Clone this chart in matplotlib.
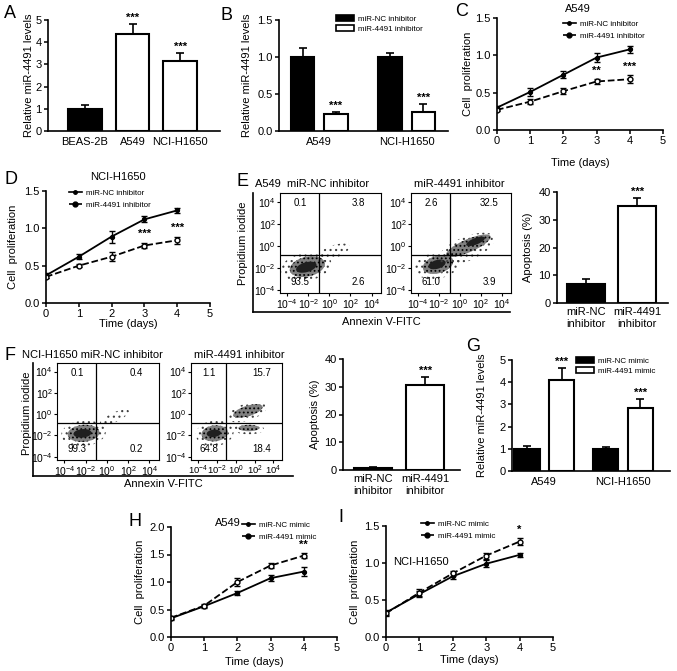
import matplotlib
matplotlib.use('Agg')
import matplotlib.pyplot as plt
from matplotlib.patches import Ellipse, Patch
from matplotlib.lines import Line2D

plt.rcParams['font.family'] = ['Liberation Sans', 'DejaVu Sans']
plt.rcParams['mathtext.fontset'] = 'custom'
plt.rcParams['mathtext.rm'] = 'Liberation Sans'
plt.rcParams['mathtext.it'] = 'Liberation Sans'
plt.rcParams['mathtext.default'] = 'regular'
plt.rcParams['hatch.linewidth'] = 0.8

# ---- data ----
# A: relative miR-4491 levels in cell lines
a_cells = ['BEAS-2B', 'A549', 'NCI-H1650']
a_vals = [1.0, 4.35, 3.17]
a_err = [0.15, 0.45, 0.35]

# B: inhibitor knockdown
b_groups = ['A549', 'NCI-H1650']
b_nc = [1.0, 1.0]
b_nc_err = [0.12, 0.05]
b_inh = [0.23, 0.26]
b_inh_err = [0.03, 0.10]

# proliferation time course
days = [0, 1, 2, 3, 4]
c_nc = [0.30, 0.51, 0.74, 0.97, 1.08]
c_nc_err = [0.02, 0.05, 0.05, 0.06, 0.05]
c_inh = [0.27, 0.38, 0.52, 0.65, 0.68]
c_inh_err = [0.02, 0.03, 0.04, 0.03, 0.05]

d_nc = [0.37, 0.62, 0.89, 1.12, 1.24]
d_nc_err = [0.03, 0.03, 0.08, 0.04, 0.03]
d_inh = [0.35, 0.50, 0.62, 0.77, 0.84]
d_inh_err = [0.02, 0.02, 0.06, 0.04, 0.05]

h_nc = [0.34, 0.56, 0.80, 1.07, 1.19]
h_nc_err = [0.03, 0.03, 0.03, 0.05, 0.08]
h_mim = [0.35, 0.57, 1.00, 1.30, 1.48]
h_mim_err = [0.03, 0.03, 0.08, 0.05, 0.05]

i_nc = [0.33, 0.58, 0.82, 0.99, 1.11]
i_nc_err = [0.03, 0.04, 0.04, 0.05, 0.03]
i_mim = [0.32, 0.60, 0.86, 1.10, 1.29]
i_mim_err = [0.03, 0.05, 0.03, 0.04, 0.05]

# apoptosis bars
apo_labels = ['miR-NC\ninhibitor', 'miR-4491\ninhibitor']
e_apo = [6.8, 34.8]
e_apo_err = [1.8, 3.0]
f_apo = [0.8, 30.7]
f_apo_err = [0.3, 2.8]

# G: mimic overexpression
g_nc = [1.0, 1.0]
g_nc_err = [0.12, 0.08]
g_mim = [4.1, 2.85]
g_mim_err = [0.55, 0.38]

# flow quadrant percentages (UL, UR, LL, LR)
e1_quad = ['0.1', '3.8', '93.5', '2.6']
e2_quad = ['2.6', '32.5', '61.0', '3.9']
f1_quad = ['0.1', '0.4', '99.3', '0.2']
f2_quad = ['1.1', '15.7', '64.8', '18.4']

# flow cell clouds, log10 units: (x, y, width, height, angle, density level)
e1_clouds = [(-2.2, -1.9, 4.8, 2.6, 10, 1), (-2.1, -1.9, 3.4, 1.8, 12, 2),
             (-2.2, -1.95, 2.0, 0.9, 15, 3), (0.3, -0.6, 3.4, 1.2, 20, 1)]
e2_clouds = [(-2.2, -1.8, 4.4, 2.4, 10, 1), (-2.1, -1.7, 3.0, 1.6, 15, 2),
             (-2.2, -1.7, 1.7, 0.8, 15, 3), (0.6, -0.3, 5.8, 2.2, 22, 1),
             (0.8, 0.0, 4.6, 1.2, 22, 2), (1.5, 0.4, 1.9, 0.6, 20, 3)]
f1_clouds = [(-2.2, -1.8, 4.2, 2.4, 5, 1), (-2.2, -1.8, 3.0, 1.6, 5, 2),
             (-2.3, -1.8, 1.7, 0.8, 5, 3), (0.7, -0.3, 3.0, 0.9, 25, 1)]
f2_clouds = [(-2.2, -1.8, 4.0, 2.4, 5, 1), (-2.2, -1.8, 2.8, 1.5, 5, 2),
             (-2.3, -1.8, 1.5, 0.7, 5, 3), (1.2, 0.2, 4.4, 1.6, 15, 1),
             (1.3, 0.3, 3.2, 1.0, 15, 2), (1.4, -1.4, 3.2, 1.0, 0, 1),
             (1.4, -1.3, 2.2, 0.6, 0, 2)]

W, H = 677, 671
fig = plt.figure(figsize=(W / 100, H / 100), dpi=100)


def px(x0, y0, x1, y1):
    return [x0 / W, 1 - y1 / H, (x1 - x0) / W, (y1 - y0) / H]


FS = 8


def style(ax):
    for s in ['top', 'right']:
        ax.spines[s].set_visible(False)
    for s in ['left', 'bottom']:
        ax.spines[s].set_linewidth(1.2)
    ax.tick_params(direction='out', length=3, width=1.1, labelsize=FS, pad=1.5)


# label positions given as the label's centre in pixels
def ylab(ax, box, text, x_px, y_px=None):
    ax.set_ylabel(text, fontsize=FS)
    yf = 0.5 if y_px is None else (box[3] - y_px) / (box[3] - box[1])
    ax.yaxis.set_label_coords((x_px + 5 - box[0]) / (box[2] - box[0]), yf)


def xlab(ax, box, text, y_px):
    ax.set_xlabel(text, fontsize=FS)
    ax.xaxis.set_label_coords(0.5, -(y_px - 5 - box[3]) / (box[3] - box[1]))


def letter(x, y, s):
    fig.text(x / W, 1 - y / H, s, fontsize=13, ha='left', va='center')


def stars(ax, x, y, s):
    ax.text(x, y, s, ha='center', va='bottom', fontsize=8, fontweight='bold')


def bar_err(ax, x, vals, errs):
    ax.errorbar(x, vals, yerr=[[0] * len(errs), errs], fmt='none', ecolor='k',
                elinewidth=1.2, capsize=3, capthick=1.2, zorder=1)


# ---- A ----
box = (48, 20, 220, 131)
ax = fig.add_axes(px(*box))
style(ax)
xs = range(len(a_cells))
ax.bar(xs, a_vals, width=0.7, color=['black', 'white', 'white'], edgecolor='k', linewidth=1.5, zorder=2)
bar_err(ax, xs, a_vals, a_err)
for i in [1, 2]:
    stars(ax, i, a_vals[i] + a_err[i] + 0.05, '***')
ax.set_xlim(-0.78, 2.84)
ax.set_ylim(0, 5)
ax.set_yticks(range(6))
ax.set_xticks(list(xs))
ax.set_xticklabels(a_cells)
ax.tick_params(axis='x', length=0, pad=4)
ylab(ax, box, 'Relative miR-4491 levels', 29)
letter(4, 13, 'A')


# ---- grouped bars ----
def grouped(ax, nc, nce, tr, tre, off, width, star_off):
    xl = [i - off for i in range(len(nc))]
    xr = [i + off for i in range(len(nc))]
    ax.bar(xl, nc, width=width, color='black', edgecolor='k', linewidth=1.5, zorder=2)
    ax.bar(xr, tr, width=width, color='white', edgecolor='k', linewidth=1.5, zorder=2)
    bar_err(ax, xl, nc, nce)
    bar_err(ax, xr, tr, tre)
    for i in range(len(tr)):
        stars(ax, xr[i], tr[i] + tre[i] + star_off, '***')
    ax.set_xticks(range(len(nc)))
    ax.set_xticklabels(b_groups)
    ax.tick_params(axis='x', length=0, pad=4)


def legend_at(ax, handles, labels, x, y, hl=2.0, fs=5.8, sp=0.35):
    ax.legend(handles, labels, loc='upper left', bbox_to_anchor=(x / W, 1 - y / H),
              bbox_transform=fig.transFigure, frameon=False, fontsize=fs,
              handlelength=hl, handletextpad=0.5, borderpad=0, labelspacing=sp,
              borderaxespad=0)


box = (279, 20, 448, 131)
ax = fig.add_axes(px(*box))
style(ax)
grouped(ax, b_nc, b_nc_err, b_inh, b_inh_err, 0.19, 0.27, 0.015)
ax.set_xlim(-0.46, 1.47)
ax.set_ylim(0, 1.5)
ax.set_yticks([0, 0.5, 1.0, 1.5])
ax.set_yticklabels(['0.0', '0.5', '1.0', '1.5'])
ylab(ax, box, 'Relative miR-4491 levels', 247)
box_h = [Patch(facecolor='black', edgecolor='k', lw=1.2), Patch(facecolor='white', edgecolor='k', lw=1.2)]
legend_at(ax, box_h, ['miR-NC inhibitor', 'miR-4491 inhibitor'], 336, 15, hl=2.2, sp=0.3)
letter(221, 15, 'B')

box = (512, 360, 670, 471)
ax = fig.add_axes(px(*box))
style(ax)
grouped(ax, g_nc, g_nc_err, g_mim, g_mim_err, 0.22, 0.32, 0.05)
ax.set_xlim(-0.41, 1.6)
ax.set_ylim(0, 5)
ax.set_yticks(range(6))
ylab(ax, box, 'Relative miR-4491 levels', 482)
legend_at(ax, box_h, ['miR-NC mimic', 'miR-4491 mimic'], 576, 357, hl=2.2, sp=0.3)
letter(466, 347, 'G')


# ---- proliferation curves ----
def prolif(box, nc, nce, tr, tre, labels, ylim, yticks, star_list, leg, xlab_y, ylab_x):
    ax = fig.add_axes(px(*box))
    style(ax)
    ax.errorbar(days, nc, yerr=nce, color='k', lw=1.3, marker='o', markersize=2.8,
                elinewidth=1.0, capsize=2, capthick=1.0)
    ax.errorbar(days, tr, yerr=tre, color='k', lw=1.3, ls='--', marker='o', markersize=3.5,
                markerfacecolor='white', markeredgewidth=1.0,
                elinewidth=1.0, capsize=2, capthick=1.0)
    for d, s in star_list:
        stars(ax, d, tr[d] + tre[d] + 0.03 * ylim, s)
    ax.set_xlim(0, 5)
    ax.set_ylim(0, ylim)
    ax.set_xticks(range(6))
    ax.set_yticks(yticks)
    ax.set_yticklabels(['%.1f' % t for t in yticks])
    xlab(ax, box, 'Time (days)', xlab_y)
    ylab(ax, box, 'Cell  proliferation', ylab_x)
    hnc = Line2D([], [], color='k', lw=1.2, marker='o', markersize=2.5)
    htr = Line2D([], [], color='k', lw=1.2, ls='--', marker='o', markersize=3.5)
    legend_at(ax, [hnc, htr], labels, leg[0], leg[1], hl=1.6, sp=0.6)
    return ax


ax = prolif((497, 18, 663, 130), c_nc, c_nc_err, c_inh, c_inh_err,
            ['miR-NC inhibitor', 'miR-4491 inhibitor'], 1.5, [0, 0.5, 1.0, 1.5],
            [(3, '**'), (4, '***')], (563, 20), 163, 468)
ax.text(2.45, 1.55, 'A549', ha='center', va='bottom', fontsize=FS)
letter(455, 12, 'C')

ax = prolif((46, 191, 210, 303), d_nc, d_nc_err, d_inh, d_inh_err,
            ['miR-NC inhibitor', 'miR-4491 inhibitor'], 1.5, [0, 0.5, 1.0, 1.5],
            [(3, '***'), (4, '***')], (69, 189), 324, 13)
ax.text(2.2, 1.62, 'NCI-H1650', ha='center', va='bottom', fontsize=FS)
letter(4, 180, 'D')

ax = prolif((171, 527, 337, 637), h_nc, h_nc_err, h_mim, h_mim_err,
            ['miR-NC mimic', 'miR-4491 mimic'], 2.0, [0, 0.5, 1.0, 1.5, 2.0],
            [(4, '**')], (242, 521), 662, 140)
ax.text(1.7, 2.07, 'A549', ha='center', va='center', fontsize=FS)
letter(128, 522, 'H')

ax = prolif((386, 526, 553, 637), i_nc, i_nc_err, i_mim, i_mim_err,
            ['miR-NC mimic', 'miR-4491 mimic'], 1.5, [0, 0.5, 1.0, 1.5],
            [(4, '*')], (421, 520), 660, 355)
ax.text(0.2, 1.01, 'NCI-H1650', ha='left', va='center', fontsize=FS)
letter(338, 518, 'I')


# ---- flow cytometry ----
def flow(box, quad, clouds, title, tx, tfs=7.5):
    ax = fig.add_axes(px(*box))
    ax.set_xlim(-4.7, 4.9)
    ax.set_ylim(-4.3, 4.8)
    for cx, cy, w, h, ang, lvl in clouds:
        if lvl == 1:
            e = Ellipse((cx, cy), w, h, angle=ang, facecolor='none', edgecolor='0.25', lw=0, hatch='...')
        elif lvl == 2:
            e = Ellipse((cx, cy), w, h, angle=ang, facecolor='0.5', edgecolor='k', lw=0, hatch='....')
        else:
            e = Ellipse((cx, cy), w, h, angle=ang, facecolor='0.12', lw=0)
        ax.add_patch(e)
    ax.axvline(-1.0, color='k', lw=0.9)
    ax.axhline(-0.85, color='k', lw=0.9)
    ticks = [-4, -2, 0, 2, 4]
    ax.set_xticks(ticks)
    ax.set_yticks(ticks)
    ax.set_xticklabels(['$10^{%d}$' % t for t in ticks])
    ax.set_yticklabels(['$10^{%d}$' % t for t in ticks])
    for s in ax.spines.values():
        s.set_linewidth(0.8)
    ax.tick_params(direction='out', length=2, width=0.8, labelsize=7.5, pad=1)
    ax.tick_params(axis='x', labelsize=tfs)
    pos = [(0.2, 0.9), (0.78, 0.9), (0.2, 0.11), (0.78, 0.11)]
    for (x, y), s in zip(pos, quad):
        ax.text(x, y, s, transform=ax.transAxes, ha='center', va='center', fontsize=7)
    fig.text(tx[0] / W, 1 - tx[1] / H, title, ha='left', va='center', fontsize=FS)


def outer(box, ylab_x, ylab_y, xlab_y):
    ax = fig.add_axes(px(*box))
    ax.patch.set_alpha(0)
    for s in ['top', 'right']:
        ax.spines[s].set_visible(False)
    for s in ['left', 'bottom']:
        ax.spines[s].set_linewidth(1.2)
    ax.set_xticks([])
    ax.set_yticks([])
    ylab(ax, box, 'Propidium iodide', ylab_x, ylab_y)
    xlab(ax, box, 'Annexin V-FITC', xlab_y)


outer((253, 193, 510, 312), 243, 243, 322)
flow((280, 193, 381, 293), e1_quad, e1_clouds, 'A549  miR-NC inhibitor', (255, 184))
flow((411, 193, 511, 293), e2_quad, e2_clouds, 'miR-4491 inhibitor', (414, 184))
letter(236, 182, 'E')

outer((33, 363, 293, 476), 27, 413, 484)
flow((57, 363, 159, 460), f1_quad, f1_clouds, 'NCI-H1650 miR-NC inhibitor', (22, 355))
flow((191, 363, 282, 460), f2_quad, f2_clouds, 'miR-4491 inhibitor', (194, 355), tfs=6.8)
letter(4, 355, 'F')


# ---- apoptosis bars ----
def apo(box, vals, errs, xlim, ylab_x):
    ax = fig.add_axes(px(*box))
    style(ax)
    ax.bar([0, 1], vals, width=0.74, color=['black', 'white'], edgecolor='k', linewidth=1.5, zorder=2)
    bar_err(ax, [0, 1], vals, errs)
    stars(ax, 1, vals[1] + errs[1] + 0.5, '***')
    ax.set_xlim(*xlim)
    ax.set_ylim(0, 40)
    ax.set_yticks([0, 10, 20, 30, 40])
    ax.set_xticks([0, 1])
    ax.set_xticklabels(apo_labels, fontsize=FS)
    ax.tick_params(axis='x', length=0, pad=3)
    ylab(ax, box, 'Apoptosis (%)', ylab_x)


apo((557, 192, 668, 303), e_apo, e_apo_err, (-0.57, 1.6), 528)
apo((343, 359, 460, 470), f_apo, f_apo_err, (-0.58, 1.67), 315)

fig.savefig('out.png', dpi=100)
